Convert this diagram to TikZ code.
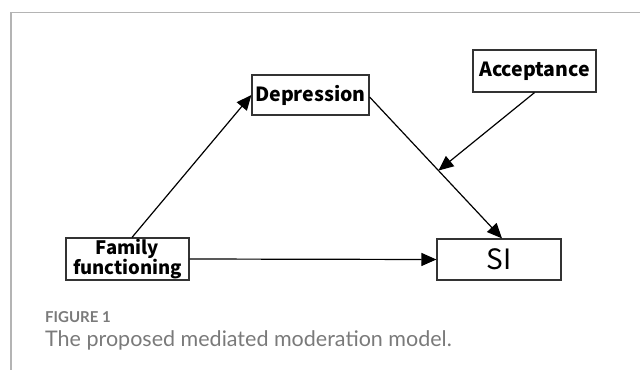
\documentclass[tikz,border=0pt]{standalone}
\usepackage{fontspec}
\usetikzlibrary{arrows.meta}
\setmainfont{Lato}
\newfontfamily\boxfont{Noto Sans CJK SC}
\definecolor{framegray}{HTML}{B4B4B4}
\definecolor{capgray}{HTML}{7A7A7A}
\begin{document}
\begin{tikzpicture}[x=1pt,y=-1pt,
  var/.style={draw=black!80,line width=1.2pt,fill=white,inner sep=0pt,align=center,
    font=\boxfont\bfseries\fontsize{19.5}{20}\selectfont},
  link/.style={line width=1.2pt,-{Triangle[length=15pt,width=13pt]}}]
\useasboundingbox (0,0) rectangle (640,370);
\draw [framegray,line width=1.6pt] (640,12.5) -- (11,12.5) -- (11,370);
\node [var,minimum width=117pt,minimum height=40pt] (dep) at (310.5,95) {Depression};
\node [var,minimum width=123pt,minimum height=42pt] (acc) at (534.5,71) {Acceptance};
\node [var,minimum width=123pt,minimum height=42pt,font=\boxfont\bfseries\fontsize{18.5}{20}\selectfont] (fam) at (127.5,259) {Family\\functioning};
\node [var,minimum width=124pt,minimum height=41pt,font=\boxfont\fontsize{28}{30}\selectfont] (si) at (499,259.5) {SI};
\draw [link] ([xshift=4.5pt]fam.north) -- (dep.west);
\draw [link] ([yshift=-2pt]dep.east) -- node [coordinate,pos=0.52] (mid) {} ([xshift=3pt]si.north);
\draw [link] (acc.south) -- (mid);
\draw [link] (fam.east) -- (si.west);
\node [anchor=base west,inner sep=0pt,text=capgray,font=\bfseries\fontsize{15}{16}\selectfont] (fig) at (45,322) {FIGURE 1};
\node [anchor=base west,inner sep=0pt,text=capgray,font=\fontsize{21.5}{22}\selectfont] (cap) at (45,346) {The proposed mediated moderation model.};
\end{tikzpicture}
\end{document}
